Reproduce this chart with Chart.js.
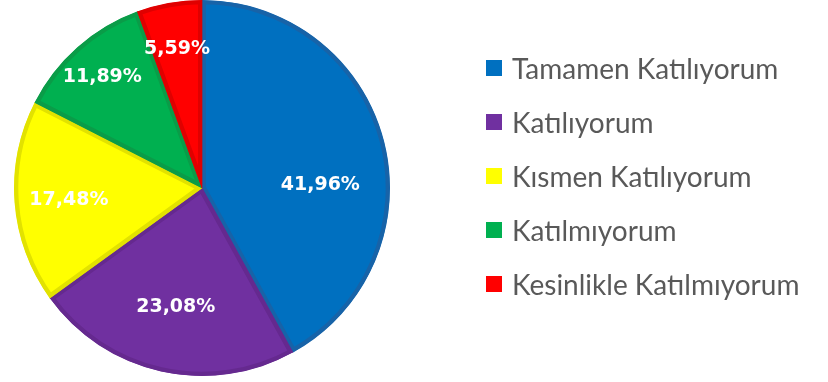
<!DOCTYPE html>
<html>
<head>
<meta charset="utf-8">
<script src="https://cdn.jsdelivr.net/npm/chart.js@4.4.1/dist/chart.umd.min.js"></script>
<style>
  html, body { margin: 0; padding: 0; background: #ffffff; }
  #wrap { position: relative; width: 828px; height: 382px; }
  #legend { position: absolute; left: 486px; top: 41px; margin: 0; padding: 0; list-style: none; }
  #legend li { display: flex; align-items: center; height: 54px; font-family: 'Lato', sans-serif; font-size: 28px; color: #595959; white-space: nowrap; }
  #legend span { display: inline-block; width: 16px; height: 16px; margin-right: 10px; }
</style>
</head>
<body>
<div id="wrap">
  <canvas id="pie" width="828" height="382"></canvas>
  <ul id="legend"></ul>
</div>
<script>
// Data
const categories = ['Tamamen Katılıyorum', 'Katılıyorum', 'Kısmen Katılıyorum', 'Katılmıyorum', 'Kesinlikle Katılmıyorum']
const percentages = [41.96, 23.08, 17.48, 11.89, 5.59]

const fillColors = ['#0070c0', '#7030a0', '#ffff00', '#00b050', '#ff0000']
const edgeColors = ['#1763a8', '#65298f', '#e2e200', '#0a9c48', '#e00000']

// where each percentage label sits: fraction of radius, and turn (degrees) from the slice middle
const labelPlacement = [
  { r: 0.63, turn: 12 },
  { r: 0.64, turn: 0 },
  { r: 0.71, turn: 0 },
  { r: 0.80, turn: 0 },
  { r: 0.76, turn: 0 }
]

const pctLabels = {
  id: 'pctLabels',
  afterDatasetsDraw(chart) {
    const ctx = chart.ctx
    const arcs = chart.getDatasetMeta(0).data
    ctx.save()
    ctx.font = 'bold 19px "DejaVu Sans", sans-serif'
    ctx.fillStyle = '#ffffff'
    ctx.textAlign = 'center'
    ctx.textBaseline = 'middle'
    arcs.forEach((arc, i) => {
      const p = labelPlacement[i]
      const mid = (arc.startAngle + arc.endAngle) / 2 + p.turn * Math.PI / 180
      const dist = arc.outerRadius * p.r
      const x = arc.x + Math.cos(mid) * dist
      const y = arc.y + Math.sin(mid) * dist + 2
      ctx.fillText(percentages[i].toFixed(2).replace('.', ',') + '%', x, y)
    })
    ctx.restore()
  }
}

new Chart(document.getElementById('pie'), {
  type: 'pie',
  data: {
    labels: categories,
    datasets: [{
      data: percentages,
      backgroundColor: fillColors,
      borderColor: edgeColors,
      borderWidth: 4,
      borderAlign: 'inner'
    }]
  },
  options: {
    responsive: false,
    animation: false,
    radius: 188,
    layout: { padding: { left: 14, right: 438, top: 0, bottom: 6 } },
    plugins: {
      legend: { display: false },
      tooltip: { enabled: false }
    }
  },
  plugins: [pctLabels]
})

// Legend
const legendEl = document.getElementById('legend')
categories.forEach((name, i) => {
  const li = document.createElement('li')
  const box = document.createElement('span')
  box.style.background = fillColors[i]
  li.appendChild(box)
  li.appendChild(document.createTextNode(name))
  legendEl.appendChild(li)
})
</script>
</body>
</html>
